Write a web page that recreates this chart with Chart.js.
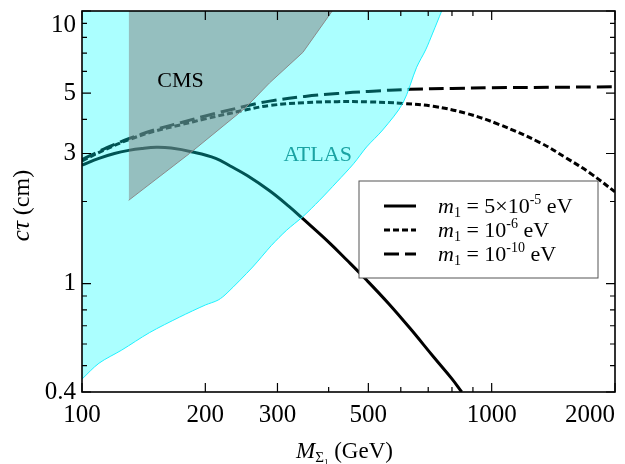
<!DOCTYPE html>
<html lang="en">
<head>
<meta charset="UTF-8">
<title>c tau vs mass</title>
<script src="https://cdn.jsdelivr.net/npm/chart.js"></script>
<style>
  body { margin: 0; background: #fff; }
  #wrap { width: 625px; height: 464px; }
</style>
</head>
<body>
<div id="wrap"><canvas id="ctauChart"></canvas></div>
<script>
// m1 = 5x10^-5 eV (solid)
const solidMass = [100, 110, 120, 130, 140, 152, 165, 186, 212, 230, 253, 287, 320, 346, 400, 443, 495, 560, 632, 720, 800, 845];
const solidTau  = [2.72, 2.88, 3.0, 3.08, 3.13, 3.16, 3.14, 3.04, 2.88, 2.70, 2.49, 2.19, 1.92, 1.73, 1.42, 1.22, 1.03, 0.845, 0.685, 0.54, 0.447, 0.40];

// m1 = 10^-6 eV (short dashes)
const dottedMass = [100, 115, 130, 150, 175, 200, 250, 287, 350, 420, 500, 607, 720, 867, 1040, 1311, 1520, 1740, 2000];
const dottedTau  = [2.82, 3.12, 3.37, 3.62, 3.83, 4.02, 4.33, 4.5, 4.61, 4.65, 4.64, 4.58, 4.47, 4.21, 3.84, 3.29, 2.89, 2.54, 2.17];

// m1 = 10^-10 eV (long dashes)
const dashedMass = [100, 115, 130, 150, 175, 200, 250, 287, 350, 420, 500, 632, 800, 1000, 1400, 2000];
const dashedTau  = [2.85, 3.15, 3.4, 3.66, 3.9, 4.12, 4.47, 4.67, 4.86, 4.98, 5.07, 5.16, 5.2, 5.23, 5.25, 5.27];

// excluded regions (lower boundary, filled up to the top)
const atlasMass = [100, 110, 125, 146, 173, 200, 215, 226, 261, 290, 316, 346, 380, 419, 460, 495, 542, 607, 656, 690, 718, 755];
const atlasTau  = [0.446, 0.51, 0.57, 0.66, 0.753, 0.834, 0.87, 0.923, 1.15, 1.38, 1.57, 1.76, 2.02, 2.36, 2.75, 3.17, 3.66, 4.59, 6.22, 7.2, 8.3, 10];
const cmsMass = [130, 183, 250, 287, 346, 408];
const cmsTau  = [2.02, 3.0, 4.4, 5.45, 7.05, 10];

const xMajorTicks = [100, 200, 300, 500, 1000, 2000];
const xMinorTicks = [400, 600, 700, 800, 900];
const xTickLabels = ['100', '200', '300', '500', '1000', '2000'];
const yMajorTicks = [0.4, 1, 3, 5, 10];
const yMinorTicks = [0.5, 0.6, 0.7, 0.8, 0.9, 2, 4, 6, 7, 8, 9];
const yTickLabels = ['0.4', '1', '3', '5', '10'];

const serif = '"Liberation Serif", "DejaVu Serif", serif';

function pts(xs, ys) {
    return xs.map((x, i) => ({ x: x, y: ys[i] }));
}

// draw text made of pieces [text, font, dy]
function richWidth(ctx, parts) {
    let w = 0;
    parts.forEach(p => { ctx.font = p[1]; w += ctx.measureText(p[0]).width; });
    return w;
}
function drawRich(ctx, parts, x, y) {
    let cx = x;
    parts.forEach(p => {
        ctx.font = p[1];
        ctx.fillText(p[0], cx, y + (p[2] || 0));
        cx += ctx.measureText(p[0]).width;
    });
}

function massLabel(exp, pre) {
    return [
        ['m', 'italic 22px ' + serif, 0],
        ['1', '14px ' + serif, 4],
        [' = ' + pre + '10', '22px ' + serif, 0],
        [exp, '14px ' + serif, -9],
        [' eV', '22px ' + serif, 0]
    ];
}

const lineSets = [
    { data: pts(solidMass, solidTau), dash: [], text: massLabel('-5', '5\u00d7') },
    { data: pts(dottedMass, dottedTau), dash: [6, 3], text: massLabel('-6', '') },
    { data: pts(dashedMass, dashedTau), dash: [15, 6], text: massLabel('-10', '') }
];

const decorPlugin = {
    id: 'decor',
    afterDatasetsDraw(chart) {
        const { ctx, chartArea: a, scales: { x, y } } = chart;
        ctx.save();

        // region names
        ctx.textAlign = 'center';
        ctx.textBaseline = 'middle';
        ctx.font = '22px ' + serif;
        ctx.fillStyle = '#000';
        ctx.fillText('CMS', x.getPixelForValue(174), y.getPixelForValue(5.53));
        ctx.fillStyle = '#1aa3a3';
        ctx.fillText('ATLAS', x.getPixelForValue(376), y.getPixelForValue(2.96));

        // frame
        ctx.strokeStyle = '#000';
        ctx.lineWidth = 1.6;
        ctx.strokeRect(a.left, a.top, a.right - a.left, a.bottom - a.top);

        // inward ticks on all sides
        ctx.lineWidth = 1.2;
        ctx.beginPath();
        const xt = (v, len) => {
            const px = x.getPixelForValue(v);
            ctx.moveTo(px, a.bottom); ctx.lineTo(px, a.bottom - len);
            ctx.moveTo(px, a.top); ctx.lineTo(px, a.top + len);
        };
        const yt = (v, len) => {
            const py = y.getPixelForValue(v);
            ctx.moveTo(a.left, py); ctx.lineTo(a.left + len, py);
            ctx.moveTo(a.right, py); ctx.lineTo(a.right - len, py);
        };
        xMajorTicks.forEach(v => xt(v, 9));
        xMinorTicks.forEach(v => xt(v, 5));
        yMajorTicks.forEach(v => yt(v, 9));
        yMinorTicks.forEach(v => yt(v, 5));
        ctx.stroke();

        // tick labels
        ctx.fillStyle = '#000';
        ctx.font = '25px ' + serif;
        ctx.textBaseline = 'middle';
        xMajorTicks.forEach((v, i) => {
            const px = x.getPixelForValue(v);
            const w = ctx.measureText(xTickLabels[i]).width;
            if (px + w / 2 > a.right + 2) {
                ctx.textAlign = 'right';
                ctx.fillText(xTickLabels[i], a.right, a.bottom + 23);
            } else {
                ctx.textAlign = 'center';
                ctx.fillText(xTickLabels[i], px, a.bottom + 23);
            }
        });
        ctx.textAlign = 'right';
        yMajorTicks.forEach((v, i) => {
            let py = y.getPixelForValue(v);
            if (py - a.top < 5) py = a.top + 14;
            ctx.fillText(yTickLabels[i], a.left - 6, py);
        });

        // x title
        ctx.textAlign = 'left';
        ctx.textBaseline = 'alphabetic';
        const xTitle = [
            ['M', 'italic 23px ' + serif, 0],
            ['\u03a3', '15px ' + serif, 4],
            ['1', '9px ' + serif, 7],
            [' (GeV)', '23px ' + serif, 0]
        ];
        const xw = richWidth(ctx, xTitle);
        drawRich(ctx, xTitle, (a.left + a.right) / 2 - xw / 2 - 4, a.bottom + 66);

        // y title
        const yTitle = [
            ['c\u03c4', 'italic 25px ' + serif, 0],
            [' (cm)', '24px ' + serif, 0]
        ];
        const yw = richWidth(ctx, yTitle);
        ctx.save();
        ctx.translate(29, (a.top + a.bottom) / 2 + 4);
        ctx.rotate(-Math.PI / 2);
        drawRich(ctx, yTitle, -yw / 2, 0);
        ctx.restore();

        // legend box
        const bx = a.right - 256, by = a.top + 170, bw = 239, bh = 97;
        ctx.fillStyle = '#fff';
        ctx.fillRect(bx, by, bw, bh);
        ctx.strokeStyle = '#555';
        ctx.lineWidth = 1;
        ctx.strokeRect(bx, by, bw, bh);
        lineSets.forEach((s, i) => {
            const ly = by + 25 + i * 24;
            ctx.strokeStyle = '#000';
            ctx.lineWidth = 3;
            ctx.setLineDash(s.dash);
            ctx.beginPath();
            ctx.moveTo(bx + 25, ly);
            ctx.lineTo(bx + 57, ly);
            ctx.stroke();
            ctx.setLineDash([]);
            ctx.fillStyle = '#000';
            drawRich(ctx, s.text, bx + 79, ly + 7);
        });

        ctx.restore();
    }
};

const datasets = lineSets.map(s => ({
    data: s.data,
    borderColor: '#000',
    borderWidth: 3,
    borderDash: s.dash,
    pointRadius: 0,
    fill: false,
    tension: 0.4,
    clip: 0,
    order: 3
}));
datasets.push({
    data: pts(atlasMass, atlasTau),
    borderColor: '#1ef0ff',
    borderWidth: 1,
    backgroundColor: 'rgba(0, 255, 255, 0.33)',
    pointRadius: 0,
    fill: 'end',
    tension: 0.3,
    clip: 0,
    order: 2
});
datasets.push({
    data: pts(cmsMass, cmsTau),
    borderColor: '#8a8a8a',
    borderWidth: 1,
    backgroundColor: 'rgba(128, 128, 128, 0.5)',
    pointRadius: 0,
    fill: 'end',
    tension: 0,
    clip: 0,
    order: 1
});

new Chart(document.getElementById('ctauChart'), {
    type: 'line',
    data: { datasets: datasets },
    options: {
        responsive: true,
        maintainAspectRatio: false,
        animation: false,
        layout: { padding: { left: 82, right: 10, top: 11, bottom: 72 } },
        scales: {
            x: { type: 'logarithmic', min: 100, max: 2000, display: false },
            y: { type: 'logarithmic', min: 0.4, max: 10, display: false }
        },
        plugins: {
            legend: { display: false },
            tooltip: { enabled: false }
        }
    },
    plugins: [decorPlugin]
});
</script>
</body>
</html>
